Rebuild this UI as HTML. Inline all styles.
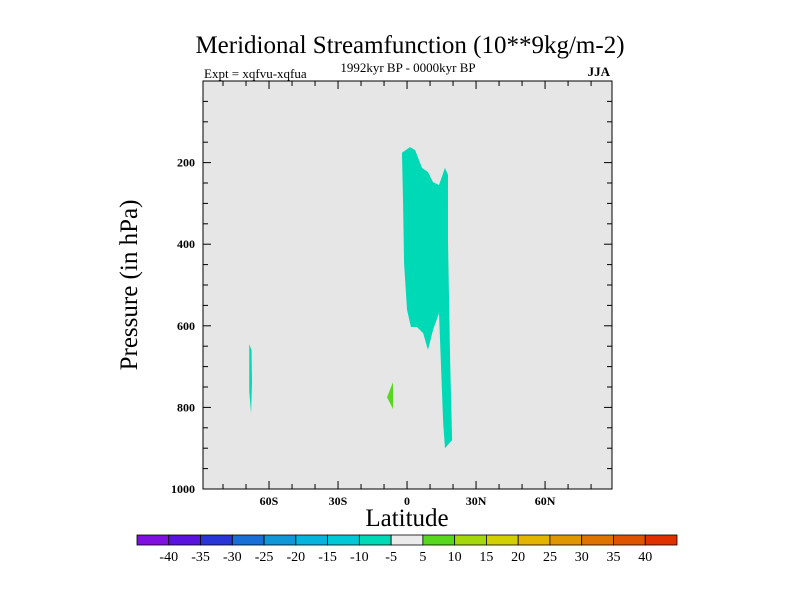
<!DOCTYPE html>
<html><head><meta charset="utf-8"><style>
body{margin:0;background:#fff;}
svg text{font-family:"Liberation Serif",serif;fill:#000;}
.b{font-weight:bold;}
</style></head><body>
<svg width="800" height="600">
<text x="410" y="53" font-size="25" text-anchor="middle">Meridional Streamfunction (10**9kg/m-2)</text>
<text x="204" y="78" font-size="13">Expt = xqfvu-xqfua</text>
<text x="408" y="72" font-size="13" text-anchor="middle">1992kyr BP - 0000kyr BP</text>
<text x="610" y="76" font-size="13" text-anchor="end" class="b">JJA</text>
<rect x="203" y="81" width="409" height="408" fill="#e6e6e6" stroke="#000" stroke-width="1"/>
<g id="marks"></g>
<g id="axes"></g>
<text x="407" y="526" font-size="25" text-anchor="middle">Latitude</text>
<text transform="translate(137,285) rotate(-90)" font-size="25" text-anchor="middle">Pressure (in hPa)</text>
<g id="cbar"></g>
</svg>
<script>
const NS='http://www.w3.org/2000/svg';
const latMin=-88.7,latMax=89.1,x0=203,x1=612,y0=81,y1=489;
function xs(l){return x0+(l-latMin)/(latMax-latMin)*(x1-x0);}
function ys(p){return y0+p/1000*(y1-y0);}
// data: contour polygons in (lat, pressure hPa)
const mainLat=[-2.2,1.3,3.5,6.5,9.1,11.3,13.9,16.5,17.8,17.8,18.7,19.6,16.5,15.7,13.9,11.3,9.1,7.0,4.3,1.7,0,-1.3,-1.7];
const mainP=[176,162,169,213,223,248,255,213,230,390,676,880,900,838,569,610,659,618,603,603,561,446,309];
const posLat=[-6.1,-8.7,-6.1];
const posP=[738,775,804];
const sliverLat=[-68.6,-67.6,-67.4,-67.8,-68.6];
const sliverP=[645,660,740,815,760];
const shapes=[[mainLat,mainP,'#00d9b5','contour-neg-5-main'],[posLat,posP,'#57d81f','contour-pos-5'],[sliverLat,sliverP,'#00d9b5','contour-neg-5-south']];
const mk=document.getElementById('marks');
shapes.forEach(s=>{
 const pg=document.createElementNS(NS,'polygon');
 pg.setAttribute('points',s[0].map((l,i)=>xs(l)+','+ys(s[1][i])).join(' '));
 pg.setAttribute('fill',s[2]);
 
 
 mk.appendChild(pg);
});
const ax=document.getElementById('axes');
function line(a,b,c,d){const l=document.createElementNS(NS,'line');l.setAttribute('x1',a);l.setAttribute('y1',b);l.setAttribute('x2',c);l.setAttribute('y2',d);l.setAttribute('stroke','#000');ax.appendChild(l);return l;}
function txt(x,y,s,a,t){const e=document.createElementNS(NS,'text');e.setAttribute('x',x);e.setAttribute('y',y);e.setAttribute('font-size',s);e.setAttribute('text-anchor',a);e.setAttribute('font-weight','bold');e.textContent=t;return e;}
const xTickLabels=['60S','30S','0','30N','60N'];
const xTickVals=[-60,-30,0,30,60];
for(let l=-80;l<=80;l+=10){const x=xs(l);const L=(l%30===0)?8:5;line(x,y1,x,y1-L);line(x,y0,x,y0+L);}
xTickVals.forEach((v,i)=>{const t=txt(xs(v),505,12,'middle',xTickLabels[i]);


ax.appendChild(t);});
const yTickVals=[200,400,600,800,1000];
for(let p=50;p<1000;p+=50){const y=ys(p);const L=(p%200===0)?8:5;line(x0,y,x0+L,y);line(x1,y,x1-L,y);}
yTickVals.forEach(v=>{const t=txt(195,ys(v)+4,12,'end',String(v));


ax.appendChild(t);});
// colorbar
const cbColors=['#7f10e0','#5a12de','#2a35d8','#1a6fd6','#0f97d8','#05b4dc','#00c8d6','#00d9b5','#ebebeb','#57d81f','#a5d80a','#d2d000','#e3b400','#e09600','#df7300','#df5200','#e03000'];
const cbLabels=['-40','-35','-30','-25','-20','-15','-10','-5','5','10','15','20','25','30','35','40'];
const cb=document.getElementById('cbar');
const cbx=137,cbw=(677-137)/cbColors.length;
cbColors.forEach((c,i)=>{const r=document.createElementNS(NS,'rect');
r.setAttribute('x',cbx+i*cbw);r.setAttribute('y',535);r.setAttribute('width',cbw);r.setAttribute('height',10);
r.setAttribute('fill',c);r.setAttribute('stroke','#000');r.setAttribute('stroke-width','0.8');


cb.appendChild(r);});
cbLabels.forEach((s,i)=>{const t=txt(cbx+(i+1)*cbw,561,14,'middle',s);
t.setAttribute('font-weight','normal');


cb.appendChild(t);});
</script>
</body></html>
